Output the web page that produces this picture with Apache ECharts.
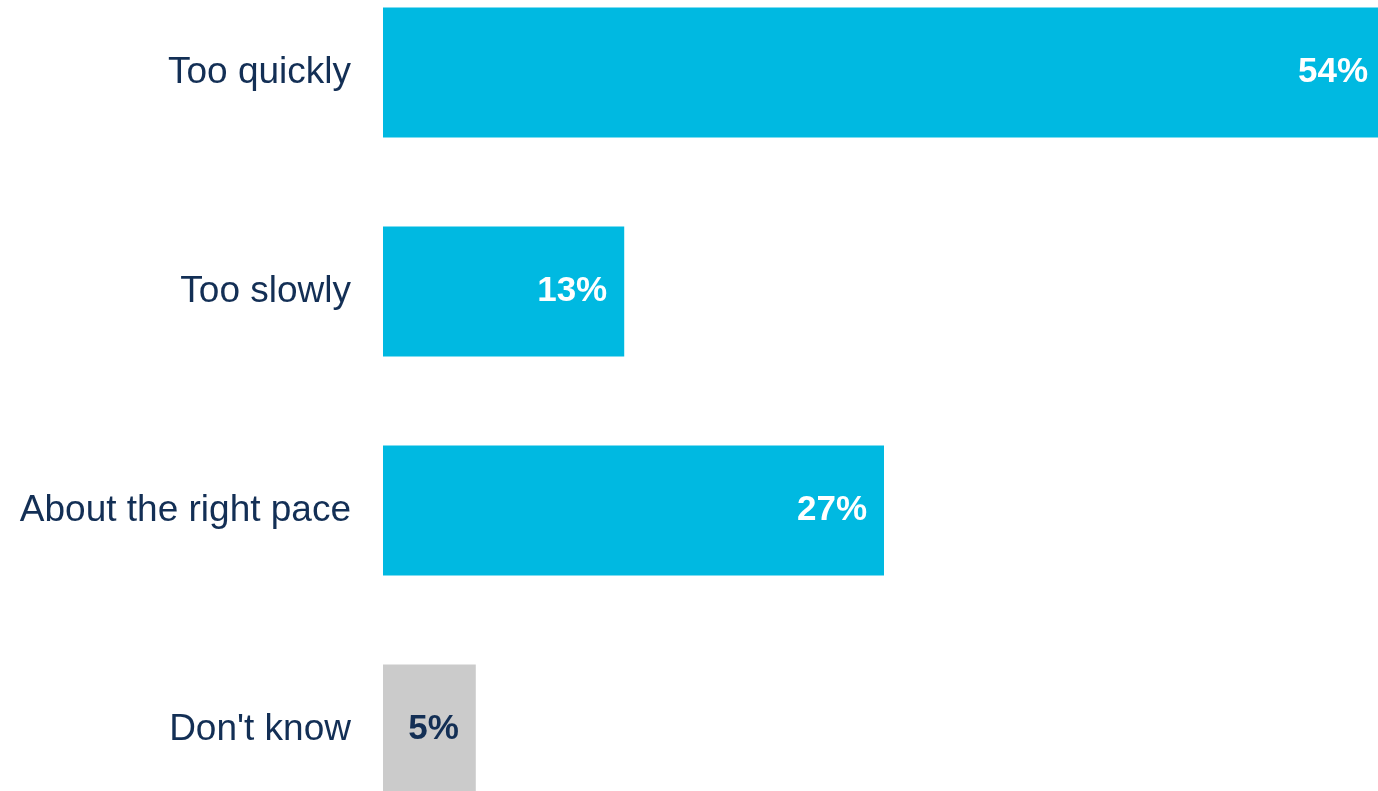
<!DOCTYPE html>
<html>
<head>
<meta charset="utf-8">
<script src="https://cdn.jsdelivr.net/npm/echarts@6/dist/echarts.min.js"></script>
<style>
  html, body { margin: 0; padding: 0; background: #fff; overflow: hidden; }
  body { width: 1378px; height: 791px; position: relative; }
  /* chart box is a bit bigger than the window, the outer bars get clipped like in the original */
  #chart { position: absolute; left: 0; top: -37px; width: 1385px; height: 876px; }
</style>
</head>
<body>
<div id="chart"></div>
<script>
// categories, top to bottom
const categories = ['Too quickly', 'Too slowly', 'About the right pace', "Don't know"]
const values = [54, 13, 27, 5]
const barColors = ['#00b9e1', '#00b9e1', '#00b9e1', '#cbcbcb']
const labelColors = ['#ffffff', '#ffffff', '#ffffff', '#132f55']

const chart = echarts.init(document.getElementById('chart'))

const option = {
  animation: false,
  grid: {
    left: 383,
    right: 0,
    top: 0,
    bottom: 0,
    containLabel: false
  },
  xAxis: {
    type: 'value',
    min: 0,
    max: 54,
    show: false
  },
  yAxis: {
    type: 'category',
    inverse: true,
    data: categories,
    axisLine: { show: false },
    axisTick: { show: false },
    axisLabel: {
      margin: 32,
      fontSize: 37,
      fontFamily: 'Liberation Sans, Arial, sans-serif',
      color: '#132f55'
    }
  },
  series: [
    {
      type: 'bar',
      barWidth: 130,
      data: values.map((v, i) => ({
        value: v,
        itemStyle: { color: barColors[i] },
        label: { color: labelColors[i] }
      })),
      label: {
        show: true,
        position: 'insideRight',
        distance: 17,
        formatter: '{c}%',
        fontSize: 35,
        fontWeight: 'bold',
        fontFamily: 'Liberation Sans, Arial, sans-serif'
      }
    }
  ]
}

chart.setOption(option)
</script>
</body>
</html>
